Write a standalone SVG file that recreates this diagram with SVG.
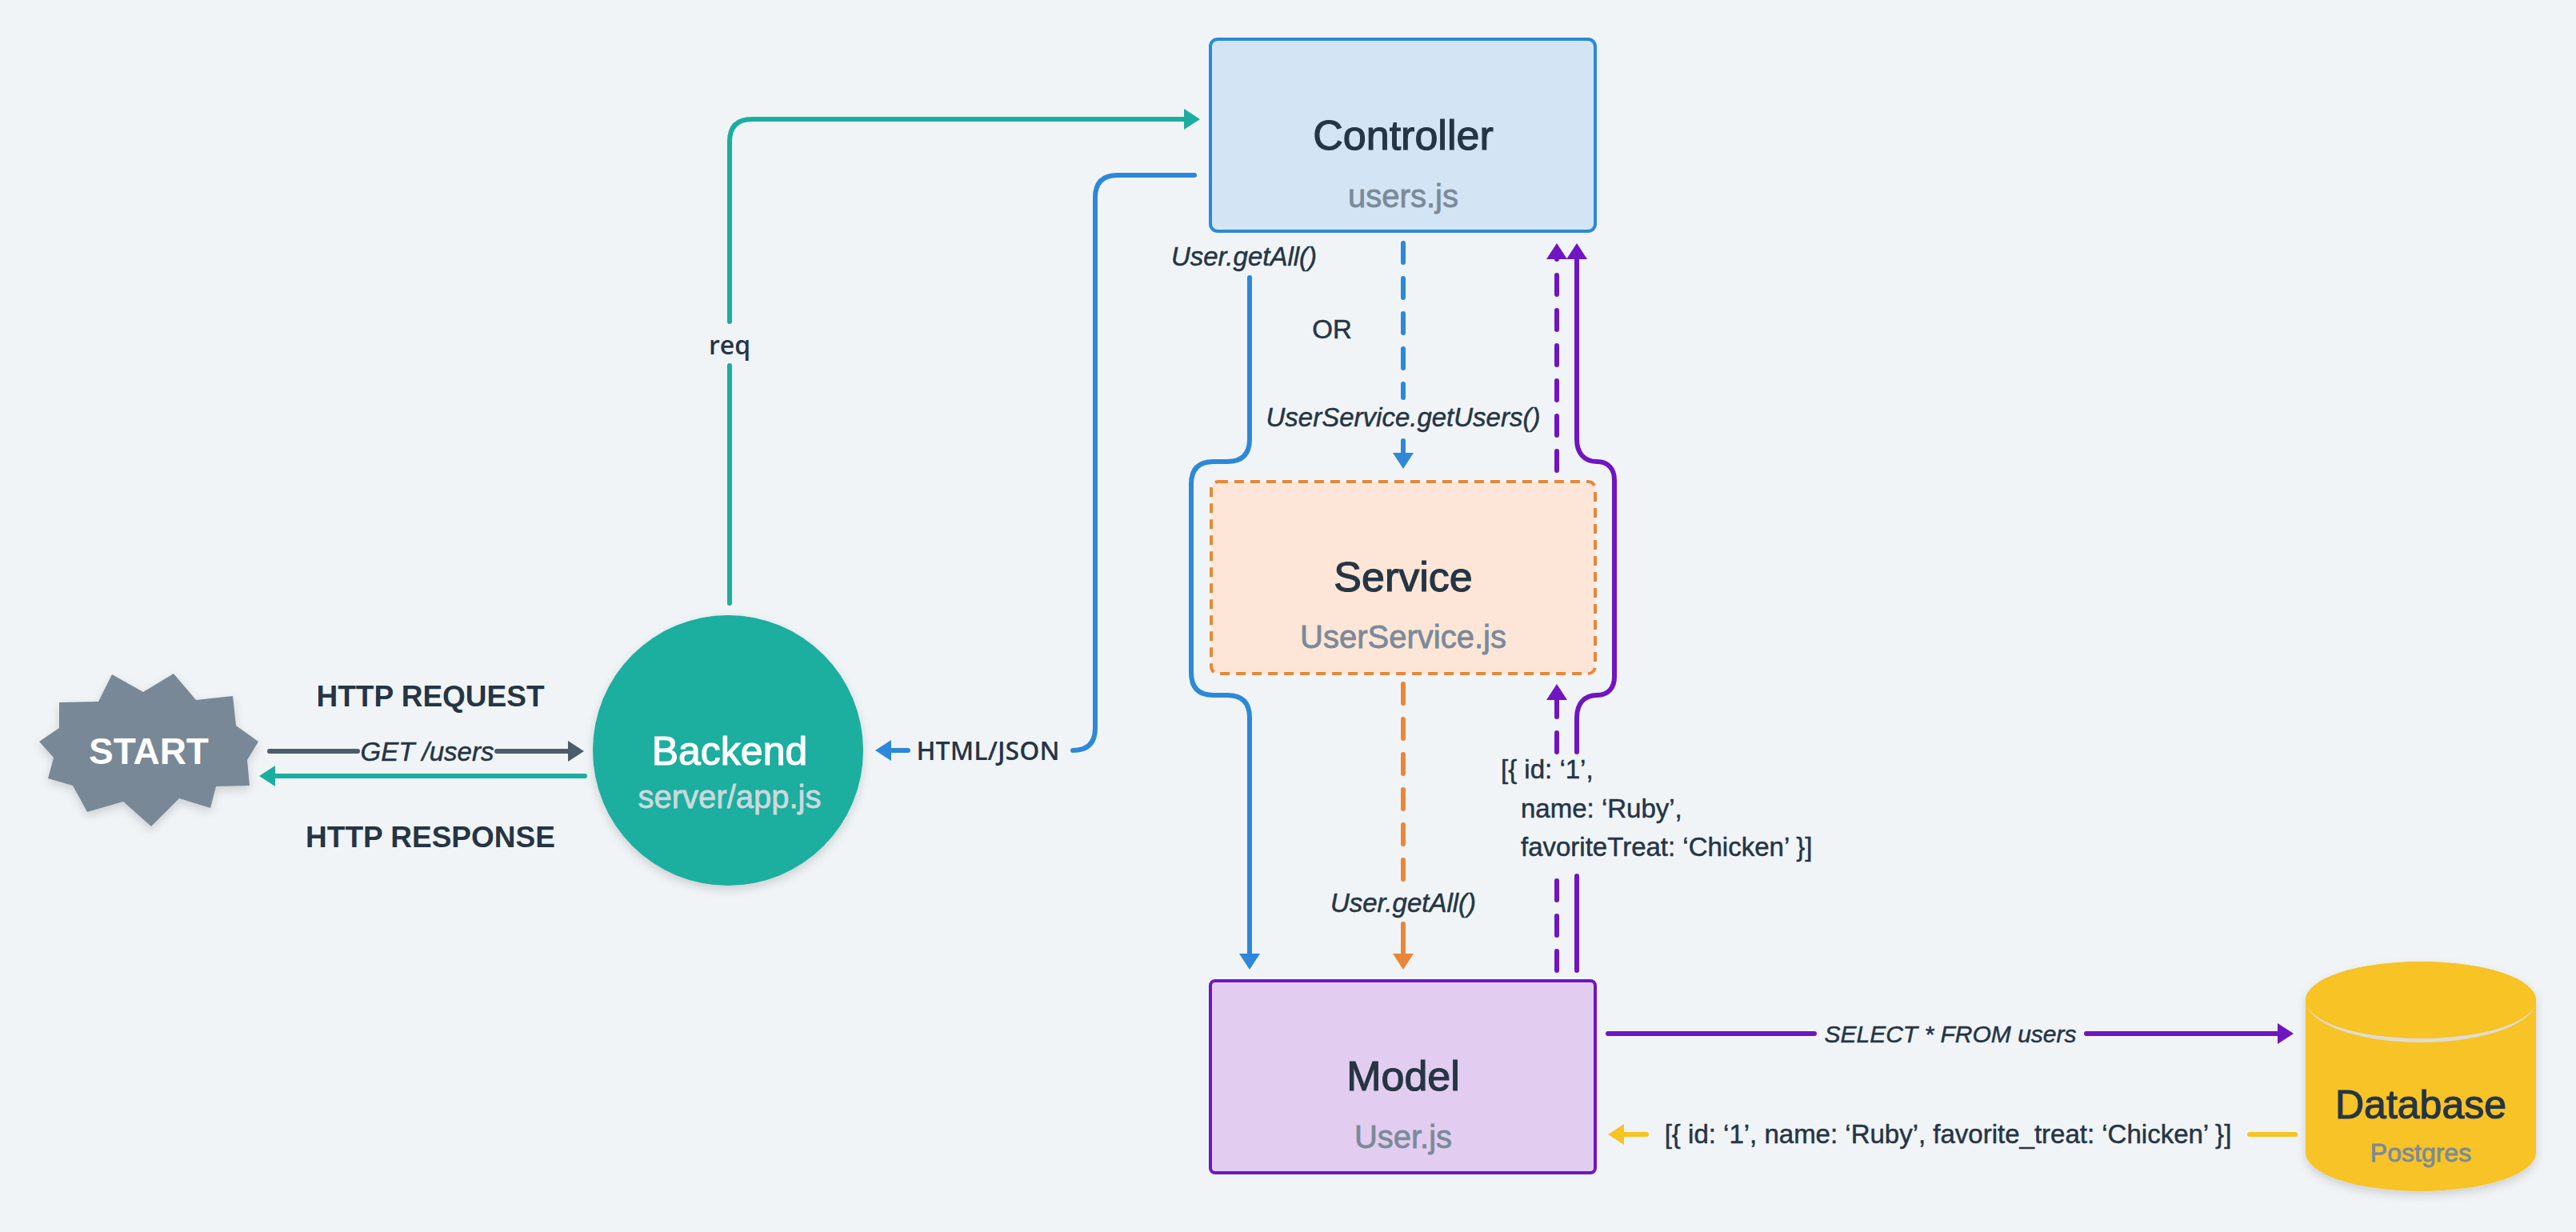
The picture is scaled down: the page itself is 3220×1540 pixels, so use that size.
<svg xmlns="http://www.w3.org/2000/svg" width="3220" height="1540" viewBox="0 0 3220 1540">
<defs>
<style>
.t{font-family:"Liberation Sans",Arial,sans-serif;fill:#263544}
.title{font-size:52px;stroke:#263544;stroke-width:1.2}
.sub{font-size:40px;fill:#7b8a99;stroke:#7b8a99;stroke-width:0.8}
.lab{font-size:33px;stroke:#263544;stroke-width:0.5}
.it{font-style:italic}
.bold{font-weight:bold}
.rl{font-family:"Open Sans","Liberation Sans",sans-serif;font-weight:600;font-size:32px;fill:#263544}
.ln{fill:none;stroke-width:6;stroke-linecap:round;stroke-linejoin:round}
.dash{stroke-dasharray:24 20}
</style>
<filter id="sh" x="-20%" y="-20%" width="140%" height="150%">
<feDropShadow dx="0" dy="5" stdDeviation="6" flood-color="#000" flood-opacity="0.15"/>
</filter>
<marker id="aTeal" markerUnits="userSpaceOnUse" markerWidth="20" markerHeight="26" viewBox="0 0 20 26" refX="4" refY="13" orient="auto"><path d="M0,0 L20,13 L0,26 Z" fill="#1aae9f"/></marker>
<marker id="aBlue" markerUnits="userSpaceOnUse" markerWidth="20" markerHeight="26" viewBox="0 0 20 26" refX="4" refY="13" orient="auto"><path d="M0,0 L20,13 L0,26 Z" fill="#2d88d9"/></marker>
<marker id="aPur" markerUnits="userSpaceOnUse" markerWidth="20" markerHeight="26" viewBox="0 0 20 26" refX="4" refY="13" orient="auto"><path d="M0,0 L20,13 L0,26 Z" fill="#7015c2"/></marker>
<marker id="aOr" markerUnits="userSpaceOnUse" markerWidth="20" markerHeight="26" viewBox="0 0 20 26" refX="4" refY="13" orient="auto"><path d="M0,0 L20,13 L0,26 Z" fill="#e8873a"/></marker>
<marker id="aYel" markerUnits="userSpaceOnUse" markerWidth="20" markerHeight="26" viewBox="0 0 20 26" refX="4" refY="13" orient="auto"><path d="M0,0 L20,13 L0,26 Z" fill="#f7c325"/></marker>
<marker id="aGray" markerUnits="userSpaceOnUse" markerWidth="20" markerHeight="26" viewBox="0 0 20 26" refX="4" refY="13" orient="auto"><path d="M0,0 L20,13 L0,26 Z" fill="#4d5c6b"/></marker>
</defs>
<rect width="3220" height="1540" fill="#f0f4f7"/>

<g id="connectors">
<!-- GET /users -->
<path class="ln" stroke="#4d5c6b" d="M337 939 H447 M621 939 H714" marker-end="url(#aGray)"/>
<text class="t lab it" x="534" y="951" text-anchor="middle">GET /users</text>
<!-- response -->
<path class="ln" stroke="#1aae9f" d="M731 970 H340" marker-end="url(#aTeal)"/>
<text class="t bold" font-size="37" x="538" y="883" text-anchor="middle">HTTP REQUEST</text>
<text class="t bold" font-size="37" x="538" y="1059" text-anchor="middle">HTTP RESPONSE</text>
<!-- req -->
<path class="ln" stroke="#1aae9f" d="M912 754 V457 M912 402 V177 Q912 149 940 149 H1484" marker-end="url(#aTeal)"/>
<text class="rl" x="912" y="443" text-anchor="middle">req</text>
<!-- HTML/JSON -->
<path class="ln" stroke="#2d88d9" d="M1493 219 H1397 Q1369 219 1369 247 V910 Q1369 938 1341 938"/>
<path class="ln" stroke="#2d88d9" d="M1135 938 H1110" marker-end="url(#aBlue)"/>
<text class="rl" x="1235" y="950" text-anchor="middle">HTML/JSON</text>
<!-- Controller -> Model (solid blue) -->
<path class="ln" stroke="#2d88d9" d="M1562 347 V549 Q1562 577 1534 577 H1517 Q1489 577 1489 605 V841 Q1489 869 1517 869 H1534 Q1562 869 1562 897 V1196" marker-end="url(#aBlue)"/>
<text class="t lab it" x="1555" y="332" text-anchor="middle">User.getAll()</text>
<!-- Controller -> Service (dashed blue) -->
<path class="ln dash" stroke="#2d88d9" d="M1754 304 V497"/>
<path class="ln" stroke="#2d88d9" d="M1754 551 V570" marker-end="url(#aBlue)"/>
<text class="t lab" x="1665" y="423" text-anchor="middle">OR</text>
<text class="t lab it" x="1754" y="533" text-anchor="middle">UserService.getUsers()</text>
<!-- Service -> Model (dashed orange) -->
<path class="ln dash" stroke="#e8873a" d="M1754 855 V1105"/>
<path class="ln" stroke="#e8873a" d="M1754 1155 V1196" marker-end="url(#aOr)"/>
<text class="t lab it" x="1754" y="1140" text-anchor="middle">User.getAll()</text>
<!-- Model -> Service (dashed purple) -->
<path class="ln dash" stroke="#7015c2" d="M1946 1213 V1095"/>
<path class="ln dash" stroke="#7015c2" d="M1946 940 V871" marker-end="url(#aPur)"/>
<!-- Service -> Controller (dashed purple) -->
<path class="ln dash" stroke="#7015c2" d="M1946 588 V320" marker-end="url(#aPur)"/>
<!-- Model -> Controller (solid purple) -->
<path class="ln" stroke="#7015c2" d="M1971 1213 V1095"/>
<path class="ln" stroke="#7015c2" d="M1971 940 V897 C1971 880 1980 869 1996 869 C2010 869 2018 860 2018 846 V600 C2018 586 2010 577 1996 577 C1980 577 1971 566 1971 549 V320" marker-end="url(#aPur)"/>
<text class="t lab" x="1876" y="973">[{ id: ‘1’,</text>
<text class="t lab" x="1901" y="1022">name: ‘Ruby’,</text>
<text class="t lab" x="1901" y="1070">favoriteTreat: ‘Chicken’ }]</text>
<!-- SELECT -->
<path class="ln" stroke="#7015c2" d="M2010 1292 H2268 M2608 1292 H2851" marker-end="url(#aPur)"/>
<text class="t it lab" font-size="30" style="font-size:30px" x="2438" y="1303" text-anchor="middle">SELECT * FROM users</text>
<!-- DB result -->
<path class="ln" stroke="#f7c325" d="M2869 1418 H2812 M2058 1418 H2026" marker-end="url(#aYel)"/>
<text class="t lab" x="2435" y="1429" text-anchor="middle">[{ id: ‘1’, name: ‘Ruby’, favorite_treat: ‘Chicken’ }]</text>
</g>

<g id="start">
<polygon filter="url(#sh)" fill="#788896" points="140,843 179,865 217,842 245,875 291,870 295,907 323,927 309,950 312,982 270,983 263,1010 224,998 189,1033 154,1002 109,1015 91,982 60,973 67,947 49,927 74,910 74,878 123,877"/>
<text class="t bold" font-size="46" style="fill:#ffffff" x="186" y="955" text-anchor="middle">START</text>
</g>

<g id="backend">
<circle cx="910" cy="938" r="169" fill="#1aae9f" filter="url(#sh)"/>
<text class="t" font-size="50" style="fill:#ffffff;stroke:#ffffff;stroke-width:1.2" x="912" y="956" text-anchor="middle">Backend</text>
<text class="t" font-size="40" style="fill:#cdd8de;stroke:#cdd8de;stroke-width:0.8" x="912" y="1010" text-anchor="middle">server/app.js</text>
</g>

<g id="controller">
<rect x="1513" y="49" width="481" height="240" rx="9" fill="#d3e5f5" stroke="#2d88d9" stroke-width="4"/>
<text class="t title" x="1754" y="187" text-anchor="middle">Controller</text>
<text class="t sub" x="1754" y="259" text-anchor="middle">users.js</text>
</g>

<g id="service">
<rect x="1514" y="602" width="480" height="240" rx="9" fill="#fde6d7" stroke="#e8873a" stroke-width="4" stroke-dasharray="12 8"/>
<text class="t title" x="1754" y="739" text-anchor="middle">Service</text>
<text class="t sub" x="1754" y="810" text-anchor="middle">UserService.js</text>
</g>

<g id="model">
<rect x="1513" y="1226" width="481" height="240" rx="6" fill="#e2cdf1" stroke="#7015c2" stroke-width="4"/>
<text class="t title" x="1754" y="1363" text-anchor="middle">Model</text>
<text class="t sub" x="1754" y="1435" text-anchor="middle">User.js</text>
</g>

<g id="database">
<path filter="url(#sh)" fill="#f7c325" d="M2882 1250 A144 48 0 0 1 3170 1250 V1441 A144 48 0 0 1 2882 1441 Z"/>
<path fill="#e0dcd2" d="M2882 1250 A144 48 0 0 0 3170 1250 A144 53 0 0 1 2882 1250 Z"/>
<ellipse cx="3026" cy="1250" rx="144" ry="48" fill="#f7c325"/>
<text class="t title" style="font-size:50px" x="3026" y="1398" text-anchor="middle">Database</text>
<text class="t sub" style="font-size:32px" x="3026" y="1452" text-anchor="middle">Postgres</text>
</g>
</svg>
